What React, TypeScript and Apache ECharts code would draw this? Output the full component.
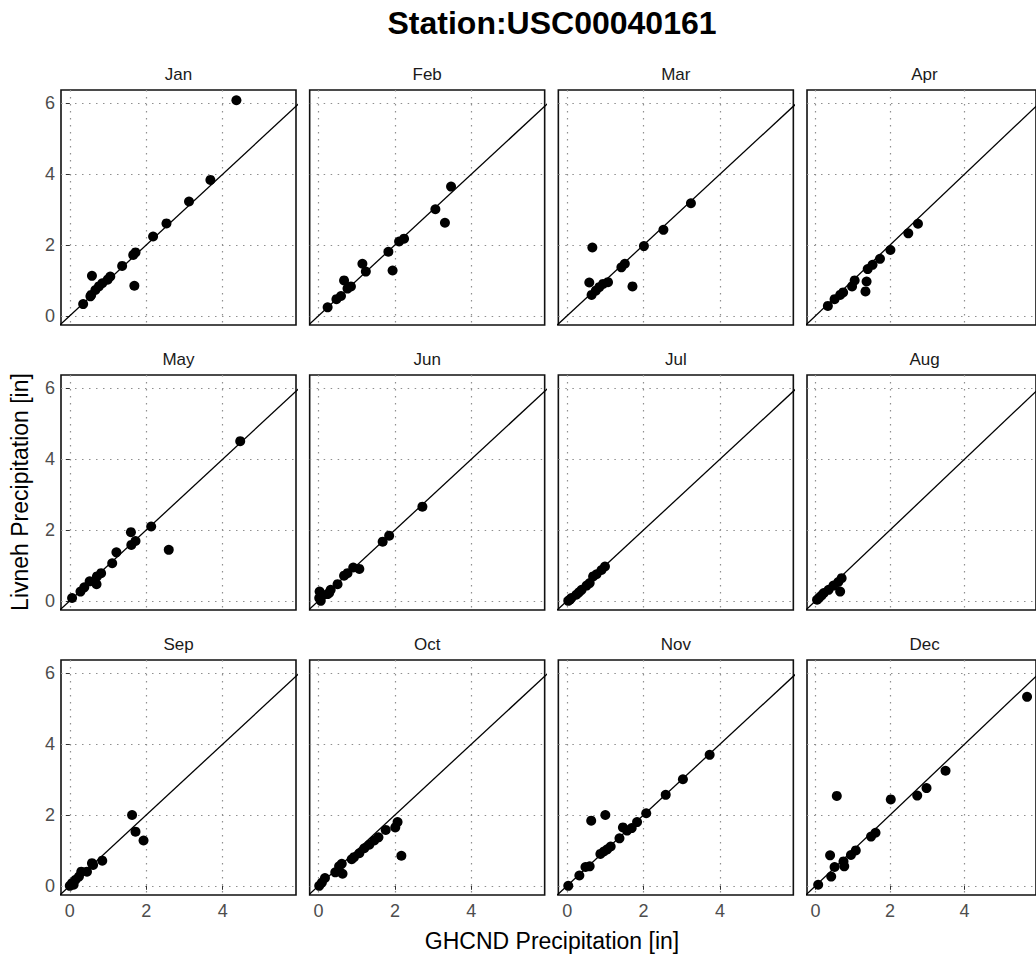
import React, { useEffect, useRef } from "react";
import * as echarts from "echarts";

// ---------------- data (GHCND [in], Livneh [in]) ----------------
const months = ["Jan", "Feb", "Mar", "Apr", "May", "Jun", "Jul", "Aug", "Sep", "Oct", "Nov", "Dec"];

const jan = [
  [4.36, 6.09], [3.68, 3.84], [3.12, 3.23], [2.53, 2.61], [2.18, 2.24], [1.72, 1.79],
  [1.66, 1.72], [1.69, 0.85], [1.37, 1.41], [1.06, 1.11], [0.99, 1.02], [0.85, 0.92],
  [0.76, 0.83], [0.67, 0.73], [0.58, 1.13], [0.56, 0.59], [0.54, 0.55], [0.35, 0.33],
];
const feb = [
  [3.47, 3.65], [3.06, 3.01], [3.31, 2.63], [2.24, 2.18], [2.11, 2.1], [1.83, 1.81],
  [1.94, 1.28], [1.15, 1.47], [1.24, 1.25], [0.67, 1.0], [0.85, 0.83], [0.76, 0.77],
  [0.59, 0.56], [0.47, 0.47], [0.24, 0.24],
];
const mar = [
  [3.24, 3.18], [2.52, 2.43], [2.01, 1.97], [0.66, 1.93], [1.51, 1.47], [1.42, 1.37],
  [1.07, 0.95], [0.94, 0.9], [0.84, 0.81], [0.75, 0.71], [0.64, 0.59], [0.58, 0.94],
  [1.71, 0.83],
];
const apr = [
  [2.75, 2.6], [2.49, 2.33], [2.01, 1.86], [1.73, 1.61], [1.53, 1.44], [1.4, 1.32],
  [1.37, 0.97], [1.34, 0.69], [1.05, 1.0], [0.98, 0.83], [0.74, 0.66], [0.66, 0.59],
  [0.51, 0.47], [0.33, 0.28],
];
const may = [
  [4.46, 4.51], [2.13, 2.1], [2.59, 1.44], [1.6, 1.94], [1.61, 1.58], [1.72, 1.69],
  [1.22, 1.37], [1.11, 1.06], [0.82, 0.78], [0.71, 0.69], [0.7, 0.47], [0.52, 0.55],
  [0.38, 0.38], [0.28, 0.26], [0.06, 0.08],
];
const jun = [
  [2.72, 2.66], [1.85, 1.84], [1.68, 1.67], [1.07, 0.9], [0.91, 0.94], [0.76, 0.78],
  [0.67, 0.71], [0.5, 0.47], [0.32, 0.31], [0.24, 0.19], [0.03, 0.26], [0.02, 0.08],
  [0.06, 0.0], [0.1, 0.15], [0.28, 0.22],
];
const jul = [
  [0.99, 0.97], [0.9, 0.87], [0.77, 0.75], [0.68, 0.69], [0.51, 0.43], [0.38, 0.31],
  [0.24, 0.17], [0.11, 0.08], [0.03, 0.0], [0.07, 0.03], [0.59, 0.5], [0.31, 0.24],
];
const aug = [
  [0.7, 0.64], [0.61, 0.53], [0.66, 0.26], [0.48, 0.43], [0.35, 0.31], [0.22, 0.22],
  [0.1, 0.09], [0.04, 0.03], [0.16, 0.15],
];
const sep = [
  [1.63, 2.0], [1.72, 1.53], [1.93, 1.28], [0.85, 0.71], [0.61, 0.59], [0.58, 0.64],
  [0.45, 0.4], [0.3, 0.4], [0.24, 0.26], [0.15, 0.17], [0.06, 0.08], [0.0, 0.0],
  [0.1, 0.03],
];
const oct = [
  [2.07, 1.8], [2.01, 1.65], [2.17, 0.85], [1.76, 1.58], [1.57, 1.37], [1.46, 1.28],
  [1.33, 1.16], [1.2, 1.06], [1.07, 0.92], [0.93, 0.81], [0.87, 0.75], [0.61, 0.62],
  [0.63, 0.34], [0.44, 0.38], [0.17, 0.22], [0.09, 0.09], [0.02, 0.0], [0.54, 0.55],
];
const nov = [
  [3.73, 3.7], [3.03, 3.01], [2.58, 2.57], [2.07, 2.05], [1.83, 1.8], [1.69, 1.63],
  [1.57, 1.56], [1.46, 1.65], [1.37, 1.34], [1.14, 1.11], [1.05, 1.03], [0.96, 0.97],
  [0.87, 0.9], [1.0, 2.0], [0.63, 1.84], [0.59, 0.55], [0.48, 0.53], [0.32, 0.29],
  [0.03, 0.0],
];
const dec = [
  [5.68, 5.34], [3.49, 3.25], [2.98, 2.76], [2.73, 2.55], [2.02, 2.44], [0.57, 2.54],
  [1.61, 1.5], [1.49, 1.39], [1.08, 1.0], [0.95, 0.87], [0.75, 0.69], [0.77, 0.55],
  [0.51, 0.53], [0.39, 0.86], [0.42, 0.26], [0.07, 0.03],
];
const monthData = [jan, feb, mar, apr, may, jun, jul, aug, sep, oct, nov, dec];

const xTicks = [0, 2, 4];
const yTicks = [0, 2, 4, 6];
const identityLine = [[-1, -1], [8, 8]];

const FONT = "'Liberation Sans', Arial, Helvetica, sans-serif";

export default function App() {
  const ref = useRef<HTMLDivElement>(null);

  useEffect(() => {
    document.body.style.margin = "0";
    const chart = echarts.init(ref.current as HTMLDivElement, null, { renderer: "svg" });

    const grids: any[] = [];
    const xAxes: any[] = [];
    const yAxes: any[] = [];
    const series: any[] = [];
    const graphics: any[] = [];

    const W = 235;
    const H = 235;
    const splitStyle = { type: [1.5, 5.5], color: "#8f8f8f", width: 1.2 };

    months.forEach((m, i) => {
      const col = i % 4;
      const row = Math.floor(i / 4);
      const left = 61 + col * 248.67;
      const top = 90 + row * 285;
      const showX = row === 2;
      const showY = col === 0;

      grids.push({
        left, top, width: W, height: H,
        show: true, borderColor: "#111", borderWidth: 1.6, backgroundColor: "#fff",
      });
      xAxes.push({
        type: "value", gridIndex: i, min: -0.23, max: 5.92,
        axisLine: { show: false },
        axisTick: {
          show: true, length: showX ? 4 : 0, customValues: xTicks,
          lineStyle: { color: showX ? "#333" : "rgba(0,0,0,0)", width: 1 },
        },
        axisLabel: {
          show: showX, customValues: xTicks, margin: 7,
          color: "#4d4d4d", fontSize: 18, fontFamily: FONT,
        },
        splitLine: { show: true, lineStyle: splitStyle },
      });
      yAxes.push({
        type: "value", gridIndex: i, min: -0.26, max: 6.38,
        axisLine: { show: false },
        axisTick: {
          show: true, length: showY ? 4 : 0, customValues: yTicks,
          lineStyle: { color: showY ? "#333" : "rgba(0,0,0,0)", width: 1 },
        },
        axisLabel: {
          show: showY, customValues: yTicks, margin: 6,
          color: "#4d4d4d", fontSize: 18, fontFamily: FONT,
        },
        splitLine: { show: true, lineStyle: splitStyle },
      });
      series.push({
        type: "line", xAxisIndex: i, yAxisIndex: i, data: identityLine,
        showSymbol: false, clip: true, silent: true,
        lineStyle: { color: "#000", width: 1.3 },
        z: 3,
      });
      series.push({
        type: "scatter", xAxisIndex: i, yAxisIndex: i, data: monthData[i],
        symbol: "circle", symbolSize: 10, itemStyle: { color: "#000", opacity: 1 },
        z: 4,
      });
      graphics.push({
        type: "text", x: left + W / 2, y: top - 16,
        style: {
          text: m, align: "center", verticalAlign: "middle",
          fontSize: 17, fontFamily: FONT, fill: "#1a1a1a",
        },
      });
    });

    graphics.push({
      type: "text", x: 552, y: 23,
      style: {
        text: "Station:USC00040161", align: "center", verticalAlign: "middle",
        fontSize: 32, fontWeight: "bold", fontFamily: FONT, fill: "#000",
      },
    });
    graphics.push({
      type: "text", x: 552, y: 941,
      style: {
        text: "GHCND Precipitation [in]", align: "center", verticalAlign: "middle",
        fontSize: 23, fontFamily: FONT, fill: "#000",
      },
    });
    graphics.push({
      type: "text", x: 20, y: 492, rotation: Math.PI / 2,
      style: {
        text: "Livneh Precipitation [in]", align: "center", verticalAlign: "middle",
        fontSize: 23, fontFamily: FONT, fill: "#000",
      },
    });

    chart.setOption({
      animation: false,
      backgroundColor: "#fff",
      grid: grids,
      xAxis: xAxes,
      yAxis: yAxes,
      series,
      graphic: graphics,
    });

    return () => chart.dispose();
  }, []);

  return <div ref={ref} style={{ width: 1036, height: 957 }} />;
}
